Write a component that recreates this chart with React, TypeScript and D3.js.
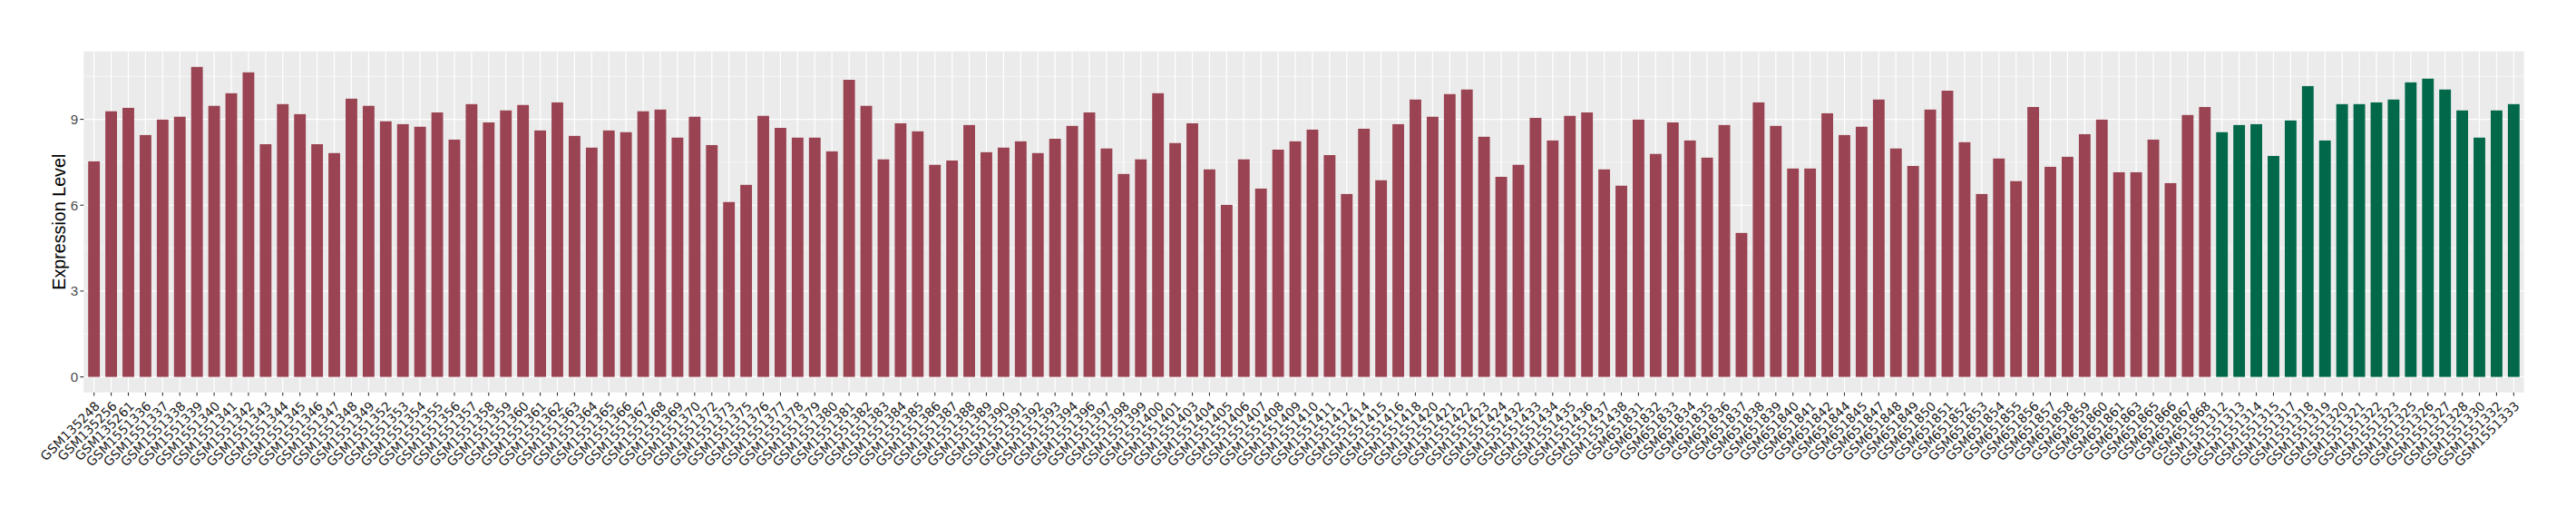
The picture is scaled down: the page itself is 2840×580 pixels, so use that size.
import React from "react";
import * as d3 from "d3";

// ---- data ----
const groupASamples: string[] = [
  "GSM135248", "GSM135256", "GSM135261",
  "GSM1551336", "GSM1551337", "GSM1551338", "GSM1551339", "GSM1551340", "GSM1551341", "GSM1551342",
  "GSM1551343", "GSM1551344", "GSM1551345", "GSM1551346", "GSM1551347", "GSM1551348", "GSM1551349",
  "GSM1551352", "GSM1551353", "GSM1551354", "GSM1551355", "GSM1551356", "GSM1551357", "GSM1551358",
  "GSM1551359", "GSM1551360", "GSM1551361", "GSM1551362", "GSM1551363", "GSM1551364", "GSM1551365",
  "GSM1551366", "GSM1551367", "GSM1551368", "GSM1551369", "GSM1551370", "GSM1551372", "GSM1551373",
  "GSM1551375", "GSM1551376", "GSM1551377", "GSM1551378", "GSM1551379", "GSM1551380", "GSM1551381",
  "GSM1551382", "GSM1551383", "GSM1551384", "GSM1551385", "GSM1551386", "GSM1551387", "GSM1551388",
  "GSM1551389", "GSM1551390", "GSM1551391", "GSM1551392", "GSM1551393", "GSM1551394", "GSM1551396",
  "GSM1551397", "GSM1551398", "GSM1551399", "GSM1551400", "GSM1551401", "GSM1551403", "GSM1551404",
  "GSM1551405", "GSM1551406", "GSM1551407", "GSM1551408", "GSM1551409", "GSM1551410", "GSM1551411",
  "GSM1551412", "GSM1551414", "GSM1551415", "GSM1551416", "GSM1551418", "GSM1551420", "GSM1551421",
  "GSM1551422", "GSM1551423", "GSM1551424", "GSM1551432", "GSM1551433", "GSM1551434", "GSM1551435",
  "GSM1551436", "GSM1551437", "GSM1551438",
  "GSM651831", "GSM651832", "GSM651833", "GSM651834", "GSM651835", "GSM651836", "GSM651837",
  "GSM651838", "GSM651839", "GSM651840", "GSM651841", "GSM651842", "GSM651844", "GSM651845",
  "GSM651847", "GSM651848", "GSM651849", "GSM651850", "GSM651851", "GSM651852", "GSM651853",
  "GSM651854", "GSM651855", "GSM651856", "GSM651857", "GSM651858", "GSM651859", "GSM651860",
  "GSM651861", "GSM651863", "GSM651865", "GSM651866", "GSM651867", "GSM651868",
];

const groupAValues: number[] = [
  7.53, 9.28, 9.40, 8.45, 8.99, 9.09, 10.83, 9.47, 9.91, 10.64,
  8.13, 9.53, 9.18, 8.13, 7.82, 9.72, 9.47, 8.93, 8.83, 8.74,
  9.24, 8.29, 9.53, 8.89, 9.31, 9.50, 8.61, 9.59, 8.42, 8.01,
  8.61, 8.55, 9.28, 9.34, 8.36, 9.09, 8.10, 6.11, 6.71, 9.12,
  8.70, 8.36, 8.36, 7.88, 10.38, 9.47, 7.60, 8.86, 8.58, 7.41,
  7.56, 8.80, 7.85, 8.01, 8.23, 7.82, 8.32, 8.77, 9.24, 7.98,
  7.09, 7.60, 9.91, 8.17, 8.86, 7.25, 6.01, 7.60, 6.58, 7.94,
  8.23, 8.64, 7.75, 6.39, 8.67, 6.87, 8.83, 9.69, 9.09, 9.88,
  10.04, 8.39, 6.99, 7.41, 9.05, 8.26, 9.12, 9.24, 7.25, 6.68,
  8.99, 7.79, 8.89, 8.26, 7.66, 8.80, 5.03, 9.59, 8.77, 7.28,
  7.28, 9.21, 8.45, 8.74, 9.69, 7.98, 7.37, 9.34, 10.00, 8.20,
  6.39, 7.63, 6.84, 9.43, 7.34, 7.69, 8.48, 8.99, 7.15, 7.15,
  8.29, 6.77, 9.15, 9.43,
];

const groupBSamples: string[] = [
  "GSM1551312", "GSM1551313", "GSM1551314", "GSM1551315", "GSM1551317", "GSM1551318",
  "GSM1551319", "GSM1551320", "GSM1551321", "GSM1551322", "GSM1551323", "GSM1551325",
  "GSM1551326", "GSM1551327", "GSM1551328", "GSM1551330", "GSM1551332", "GSM1551333",
];

const groupBValues: number[] = [
  8.55, 8.80, 8.83, 7.72, 8.96, 10.16, 8.26, 9.53, 9.53,
  9.59, 9.69, 10.29, 10.42, 10.04, 9.31, 8.36, 9.31, 9.53,
];

const yTickValues: number[] = [0, 3, 6, 9];
const yMinorValues: number[] = [1.5, 4.5, 7.5, 10.5];
const yTitle = "Expression Level";

const groupColors = { A: "#9A4352", B: "#02684A" };

type Row = { sample: string; value: number; group: "A" | "B" };

const rows: Row[] = [
  ...groupASamples.map((s, i) => ({ sample: s, value: groupAValues[i], group: "A" as const })),
  ...groupBSamples.map((s, i) => ({ sample: s, value: groupBValues[i], group: "B" as const })),
];

export default function App() {
  const W = 2840;
  const H = 580;
  const panel = { left: 92.3, right: 2782.7, top: 56.7, bottom: 432.7 };

  const x = d3
    .scalePoint<string>()
    .domain(rows.map((r) => r.sample))
    .range([panel.left, panel.right])
    .padding(0.6);
  const step = x.step();
  const barW = step * 0.68;

  const yMax = d3.max(rows, (r) => r.value) as number;
  const y = d3
    .scaleLinear()
    .domain([-0.05 * yMax, 1.05 * yMax])
    .range([panel.bottom, panel.top]);

  const font = "'Liberation Sans', Arial, Helvetica, sans-serif";
  const labelFont = "'DejaVu Sans', Verdana, sans-serif";

  return (
    <svg
      width={W}
      height={H}
      style={{ position: "fixed", left: 0, top: 0, background: "#fff" }}
      fontFamily={font}
    >
      <rect
        x={panel.left}
        y={panel.top}
        width={panel.right - panel.left}
        height={panel.bottom - panel.top}
        fill="#EBEBEB"
      />
      {/* minor horizontal gridlines */}
      {yMinorValues.map((v) => (
        <line
          key={"mn" + v}
          x1={panel.left}
          x2={panel.right}
          y1={y(v)}
          y2={y(v)}
          stroke="#fff"
          strokeWidth={0.6}
        />
      ))}
      {/* major horizontal gridlines */}
      {yTickValues.map((v) => (
        <line
          key={"mj" + v}
          x1={panel.left}
          x2={panel.right}
          y1={y(v)}
          y2={y(v)}
          stroke="#fff"
          strokeWidth={1.2}
        />
      ))}
      {/* vertical gridlines */}
      {rows.map((r) => (
        <line
          key={"vg" + r.sample}
          x1={x(r.sample)}
          x2={x(r.sample)}
          y1={panel.top}
          y2={panel.bottom}
          stroke="#fff"
          strokeWidth={1.2}
        />
      ))}
      {/* bars */}
      {rows.map((r) => (
        <rect
          key={"b" + r.sample}
          x={(x(r.sample) as number) - barW / 2}
          y={y(r.value)}
          width={barW}
          height={y(0) - y(r.value)}
          fill={groupColors[r.group]}
        />
      ))}
      {/* y axis ticks and labels */}
      {yTickValues.map((v) => (
        <g key={"yt" + v}>
          <line x1={88.3} x2={panel.left} y1={y(v)} y2={y(v)} stroke="#333" strokeWidth={1.1} />
          <text
            x={86.3}
            y={y(v)}
            dy="0.36em"
            textAnchor="end"
            fontSize={15.2}
            fill="#4D4D4D"
          >
            {v}
          </text>
        </g>
      ))}
      {/* x axis ticks and labels */}
      {rows.map((r) => {
        const cx = x(r.sample) as number;
        return (
          <g key={"xt" + r.sample}>
            <line x1={cx} x2={cx} y1={panel.bottom} y2={panel.bottom + 3.8} stroke="#333" strokeWidth={1.1} />
            <text
              transform={`translate(${cx},441.5) rotate(-45)`}
              dy="0.73em"
              textAnchor="end"
              fontSize={14}
              fontFamily={labelFont}
              fill="#1A1A1A"
            >
              {r.sample}
            </text>
          </g>
        );
      })}
      {/* y axis title */}
      <text
        transform={`translate(72,${(panel.top + panel.bottom) / 2}) rotate(-90)`}
        textAnchor="middle"
        fontSize={19.7}
        fill="#000"
      >
        {yTitle}
      </text>
    </svg>
  );
}
